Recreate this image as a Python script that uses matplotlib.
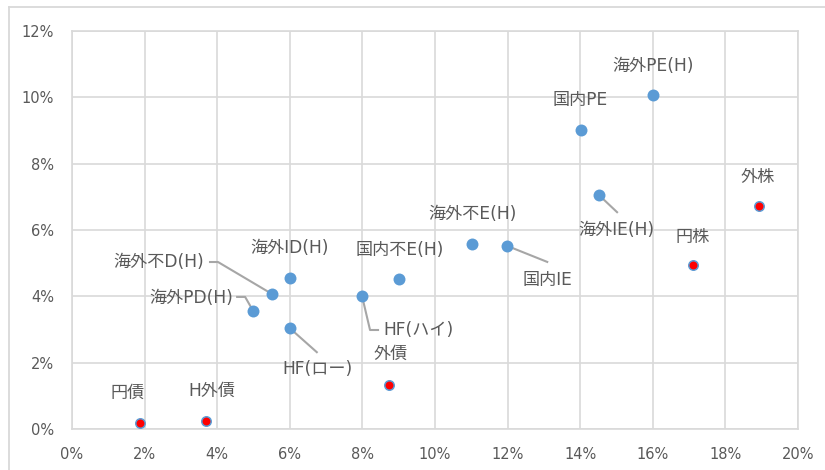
import matplotlib
matplotlib.use("Agg")
import matplotlib.pyplot as plt
from matplotlib.ticker import FuncFormatter
from matplotlib.transforms import ScaledTranslation
from matplotlib.lines import Line2D

plt.rcParams['font.family'] = ['DejaVu Sans', 'Noto Sans CJK JP']

# Asset classes: risk (x, %) and expected return (y, %)
names = ['円債', 'H外債', '外債', '円株', '外株',
         '海外PD(H)', '海外不D(H)', '海外ID(H)', 'HF(ロー)', 'HF(ハイ)',
         '国内不E(H)', '海外不E(H)', '国内IE', '国内PE', '海外PE(H)', '海外IE(H)']
risk = [1.87, 3.69, 8.74, 17.11, 18.93,
        4.99, 5.51, 6.00, 6.00, 7.99,
        9.01, 11.02, 11.99, 14.03, 16.00, 14.52]
ret = [0.18, 0.24, 1.33, 4.94, 6.72,
       3.56, 4.07, 4.55, 3.04, 4.01,
       4.52, 5.58, 5.52, 9.01, 10.07, 7.05]
traditional = [True, True, True, True, True,
               False, False, False, False, False,
               False, False, False, False, False, False]

x_ticks = [0, 2, 4, 6, 8, 10, 12, 14, 16, 18, 20]
y_ticks = [0, 2, 4, 6, 8, 10, 12]

BLUE = '#5B9BD5'
GRID = '#D9D9D9'
TEXT = '#595959'
LEADER = '#A6A6A6'

# Label placement in pixels relative to each marker: (dx, dy, ha); dy is upward
label_pos = {
    '円債': (-12, 30, 'center'),
    'H外債': (6, 30, 'center'),
    '外債': (1, 31, 'center'),
    '円株': (0, 28, 'center'),
    '外株': (-1, 29, 'center'),
    '海外PD(H)': (-20, 13, 'right'),
    '海外不D(H)': (-68, 32, 'right'),
    '海外ID(H)': (0, 30, 'center'),
    'HF(ロー)': (28, -41, 'center'),
    'HF(ハイ)': (21, -34, 'left'),
    '国内不E(H)': (1, 29, 'center'),
    '海外不E(H)': (0, 30, 'center'),
    '国内IE': (40, -34, 'center'),
    '国内PE': (-1, 30, 'center'),
    '海外PE(H)': (0, 29, 'center'),
    '海外IE(H)': (17, -35, 'center'),
}
# Leader lines in pixels relative to the marker
leaders = {
    '海外PD(H)': [(-16, 14), (-8, 14), (0, 0)],
    '海外不D(H)': [(-62, 32), (-54, 32), (0, 0)],
    'HF(ロー)': [(0, 0), (27, -24)],
    'HF(ハイ)': [(0, 0), (8, -34), (16, -34)],
    '国内IE': [(0, 0), (40, -16)],
    '海外IE(H)': [(0, 0), (18, -17)],
}

W, H, DPI = 825, 470, 100
fig = plt.figure(figsize=(W / DPI, H / DPI), dpi=DPI)
ax = fig.add_axes([72 / W, 1 - 429 / H, (798 - 72) / W, (429 - 31) / H])

# Outer chart frame (left and top edges visible)
fig.add_artist(Line2D([9 / W, 9 / W], [1 - 7 / H, -0.1], transform=fig.transFigure,
                      color=GRID, lw=1.3))
fig.add_artist(Line2D([9 / W, 1.1], [1 - 7 / H, 1 - 7 / H], transform=fig.transFigure,
                      color=GRID, lw=1.3))

ax.set_xlim(0, 20)
ax.set_ylim(0, 12)
ax.set_xticks(x_ticks)
ax.set_yticks(y_ticks)
pct = FuncFormatter(lambda v, _: f'{v:.0f}%')
ax.xaxis.set_major_formatter(pct)
ax.yaxis.set_major_formatter(pct)
ax.grid(True, color=GRID, lw=1.2, zorder=0)
ax.set_axisbelow(True)
for s in ax.spines.values():
    s.set_color(GRID)
    s.set_linewidth(1.2)
ax.tick_params(length=0, labelsize=10.5, labelcolor=TEXT)
ax.tick_params(axis='x', pad=13)
ax.tick_params(axis='y', pad=13)

px = 72.0 / DPI  # points per pixel

for n, x, y, trad in zip(names, risk, ret, traditional):
    if trad:
        ax.plot(x, y, 'o', ms=6.8, mfc='#FF0000', mec=BLUE, mew=1.1, zorder=4)
    else:
        ax.plot(x, y, 'o', ms=8.6, mfc=BLUE, mec=BLUE, mew=0, zorder=4)
    dx, dy, ha = label_pos[n]
    ax.annotate(n, (x, y), xytext=(dx * px, dy * px), textcoords='offset points',
                ha=ha, va='center', fontsize=12.3, color=TEXT, zorder=5)
    if n in leaders:
        pts = leaders[n]
        trans = fig.dpi_scale_trans + ScaledTranslation(x, y, ax.transData)
        ax.add_line(Line2D([p[0] / DPI for p in pts], [p[1] / DPI for p in pts],
                           transform=trans, color=LEADER, lw=1.5, zorder=3,
                           clip_on=False))

fig.savefig('out.png', dpi=DPI)
